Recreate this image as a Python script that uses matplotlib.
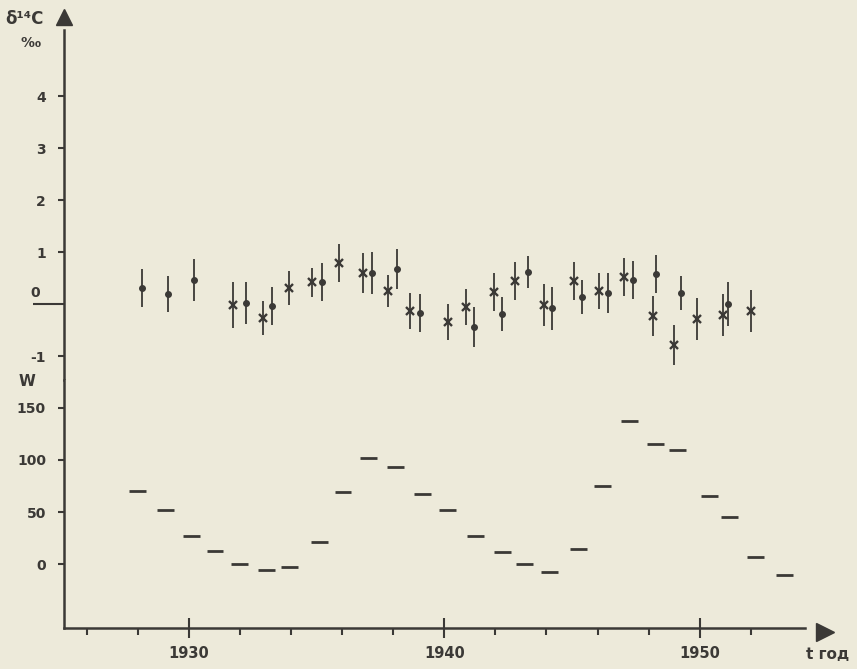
import matplotlib
matplotlib.use("Agg")
import matplotlib.pyplot as plt

# delta 14C, points drawn as dots
dot_years = [1928.16, 1929.18, 1930.20, 1932.23, 1933.25, 1935.21, 1937.16, 1938.14,
             1939.04, 1941.15, 1942.25, 1943.27, 1944.21, 1945.38, 1946.40, 1947.38,
             1948.28, 1949.26, 1951.10]
dot_d14c = [0.31, 0.19, 0.46, 0.02, -0.04, 0.42, 0.60, 0.67, -0.17, -0.44, -0.19, 0.62,
            -0.08, 0.13, 0.21, 0.46, 0.58, 0.21, 0.00]
dot_err = [0.36, 0.35, 0.40, 0.40, 0.36, 0.36, 0.40, 0.38, 0.37, 0.38, 0.33, 0.31,
           0.41, 0.33, 0.38, 0.36, 0.37, 0.32, 0.42]

# delta 14C, points drawn as crosses
cross_years = [1931.72, 1932.90, 1933.91, 1934.81, 1935.87, 1936.81, 1937.79, 1938.65,
               1940.14, 1940.84, 1941.94, 1942.76, 1943.89, 1945.07, 1946.05, 1947.03,
               1948.16, 1948.98, 1949.88, 1950.90, 1951.99]
cross_d14c = [-0.02, -0.27, 0.31, 0.42, 0.79, 0.60, 0.25, -0.13, -0.35, -0.06, 0.23, 0.44,
              -0.02, 0.44, 0.25, 0.52, -0.23, -0.79, -0.29, -0.21, -0.13]
cross_err = [0.44, 0.32, 0.32, 0.28, 0.36, 0.38, 0.30, 0.35, 0.35, 0.34, 0.37, 0.37,
             0.40, 0.37, 0.35, 0.36, 0.38, 0.38, 0.41, 0.41, 0.40]

# Wolf number W, one dash per year
w_years = [1927.98, 1929.08, 1930.10, 1931.02, 1931.98, 1933.05, 1933.93, 1935.11,
           1936.03, 1937.03, 1938.08, 1939.16, 1940.14, 1941.21, 1942.29, 1943.15,
           1944.11, 1945.26, 1946.18, 1947.26, 1948.26, 1949.14, 1950.39, 1951.17,
           1952.19, 1953.33]
w_values = [70, 52, 27, 12.5, 0, -6, -3, 21, 69, 102, 93, 67, 52, 27, 11.5, 0, -7.5, 14,
            75, 137, 115, 110, 65, 45, 7, -11]

d_ticks = [-1, 1, 2, 3, 4]
w_ticks = [0, 50, 100, 150]
major_years = [1930, 1940, 1950]
minor_years = [1926, 1928, 1932, 1934, 1936, 1938, 1942, 1944, 1946, 1948, 1952]

ink = "#3b3936"
paper = "#edeada"

fig = plt.figure(figsize=(8.57, 6.69), dpi=100, facecolor=paper)
ax_top = fig.add_axes([0.0747, 0.4320, 0.8643, 0.5232])
ax_bot = fig.add_axes([0.0747, 0.0613, 0.8643, 0.3707], sharex=ax_top)

for ax in (ax_top, ax_bot):
    ax.set_facecolor(paper)
    for side in ("top", "right", "bottom"):
        ax.spines[side].set_visible(False)
    ax.spines["left"].set_color(ink)
    ax.spines["left"].set_linewidth(1.8)
    ax.tick_params(axis="y", colors=ink, length=4, width=1.5, pad=9, labelsize=10)

ax_bot.spines["bottom"].set_visible(True)
ax_bot.spines["bottom"].set_color(ink)
ax_bot.spines["bottom"].set_linewidth(1.8)

# upper panel: delta 14C
ax_top.errorbar(dot_years, dot_d14c, yerr=dot_err, fmt="o", ms=4, color=ink,
                elinewidth=1.3, capsize=0)
ax_top.errorbar(cross_years, cross_d14c, yerr=cross_err, fmt="x", ms=6, mew=1.7,
                color=ink, elinewidth=1.3, capsize=0)
ax_top.set_ylim(-1.46, 5.27)
ax_top.set_yticks([0] + d_ticks)
ax_top.set_yticklabels([""] + [str(t) for t in d_ticks], fontweight="bold")
ax_top.yaxis.get_major_ticks()[0].tick1line.set_markersize(22)
ax_top.text(1924.0, 0.07, "0", ha="center", va="bottom", fontsize=10,
            fontweight="bold", color=ink)
ax_top.tick_params(axis="x", bottom=False, labelbottom=False)
ax_top.plot(0, 1.037, marker="^", ms=12, color=ink, transform=ax_top.transAxes,
            clip_on=False)

# lower panel: Wolf numbers
ax_bot.hlines(w_values, [y - 0.33 for y in w_years], [y + 0.33 for y in w_years],
              color=ink, lw=2)
ax_bot.set_ylim(-61.5, 176.9)
ax_bot.set_yticks(w_ticks)
ax_bot.set_yticklabels([str(t) for t in w_ticks], fontweight="bold")

ax_bot.set_xlim(1925.11, 1954.11)
ax_bot.set_xticks(major_years)
ax_bot.set_xticklabels([str(y) for y in major_years], fontweight="bold")
ax_bot.set_xticks(minor_years, minor=True)
ax_bot.tick_params(axis="x", which="major", direction="inout", length=14, width=1.5,
                   colors=ink, pad=6, labelsize=10.5)
ax_bot.tick_params(axis="x", which="minor", direction="out", length=5, width=1.5,
                   colors=ink)
ax_bot.plot(1.027, -0.016, marker=">", ms=13, color=ink, transform=ax_bot.transAxes,
            clip_on=False)

fig.text(0.006, 0.972, "δ¹⁴C", fontsize=12, fontweight="bold", color=ink, va="center")
fig.text(0.024, 0.935, "‰", fontsize=10, fontweight="bold", color=ink, va="center")
fig.text(0.032, 0.430, "W", fontsize=11, fontweight="bold", color=ink,
         ha="center", va="center")
fig.text(0.966, 0.021, "t год", fontsize=11, fontweight="bold", color=ink,
         ha="center", va="center")

fig.savefig("out.png", dpi=100, facecolor=paper)
